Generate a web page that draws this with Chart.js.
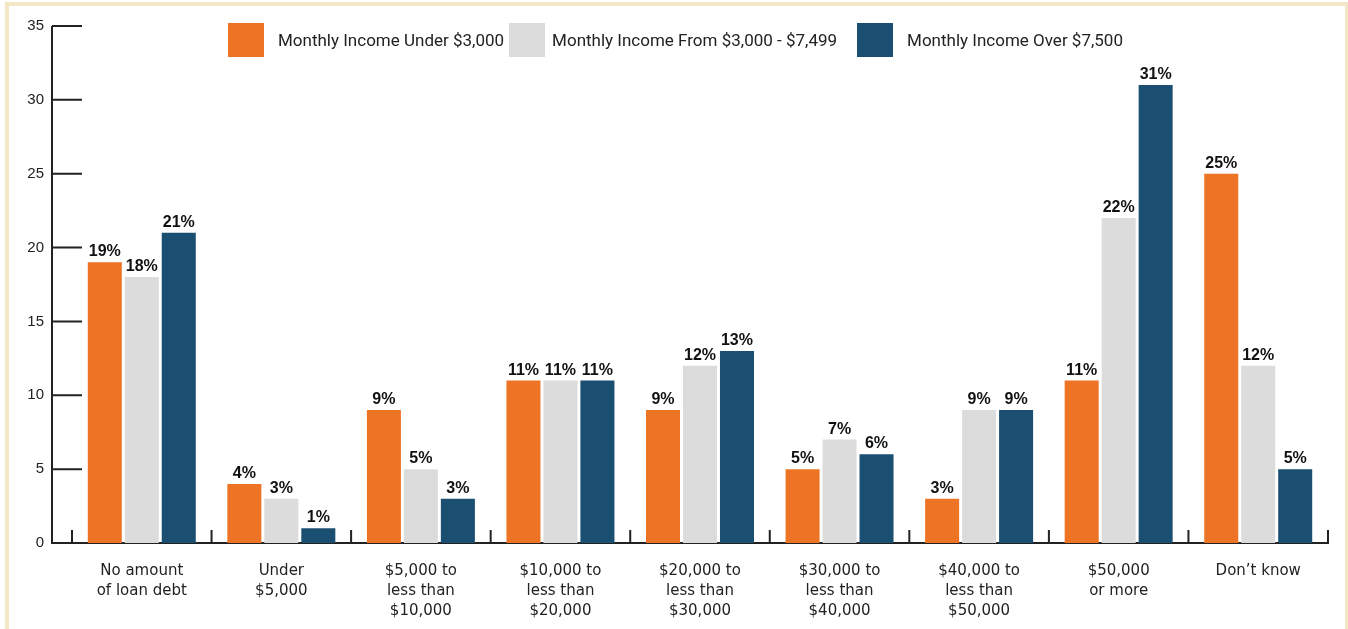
<!DOCTYPE html>
<html>
<head>
<meta charset="utf-8">
<script src="https://cdn.jsdelivr.net/npm/chart.js@4"></script>
<style>
  body { margin: 0; background: #fff; overflow: hidden; }
  #wrap { position: relative; width: 1348px; height: 629px; }
  #frame { position: absolute; left: 5px; top: 2px; width: 1336px; height: 700px;
           border: 4px solid #f3e8c6; border-bottom: none; pointer-events: none; }
  #legend { position: absolute; top: 23px; left: 228px; display: flex; align-items: center;
            font-family: Roboto, sans-serif; font-size: 17px; color: #222; }
  #legend .item { display: flex; align-items: center; }
  #legend .box { width: 36px; height: 34px; }
</style>
</head>
<body>
<div id="wrap">
  <canvas id="myChart" width="1348" height="629"></canvas>
  <div id="legend"></div>
  <div id="frame"></div>
</div>
<script>
const categories = [
  ['No amount', 'of loan debt'],
  ['Under', '$5,000'],
  ['$5,000 to', 'less than', '$10,000'],
  ['$10,000 to', 'less than', '$20,000'],
  ['$20,000 to', 'less than', '$30,000'],
  ['$30,000 to', 'less than', '$40,000'],
  ['$40,000 to', 'less than', '$50,000'],
  ['$50,000', 'or more'],
  ['Don\u2019t know']
];
const seriesNames = ['Monthly Income Under $3,000', 'Monthly Income From $3,000 - $7,499', 'Monthly Income Over $7,500'];
const under3000 = [19, 4, 9, 11, 9, 5, 3, 11, 25];
const from3000 = [18, 3, 5, 11, 12, 7, 9, 22, 12];
const over7500 = [21, 1, 3, 11, 13, 6, 9, 31, 5];
const yTicks = [0, 5, 10, 15, 20, 25, 30, 35];
const colors = ['#ee7425', '#dcdcdc', '#1b4f72'];

// axes drawn by hand: ticks point inward like the original
const axesPlugin = {
  id: 'axes',
  beforeDatasetsDraw(chart) {
    const ctx = chart.ctx;
    const x = chart.scales.x, y = chart.scales.y;
    const axisX = chart.chartArea.left - 20;
    const y0 = y.getPixelForValue(0);
    ctx.save();
    ctx.strokeStyle = '#222';
    ctx.lineWidth = 2;
    ctx.beginPath();
    ctx.moveTo(axisX, y.getPixelForValue(35));
    ctx.lineTo(axisX, y0);
    ctx.lineTo(chart.chartArea.right, y0);
    yTicks.forEach(v => {
      const py = y.getPixelForValue(v);
      ctx.moveTo(axisX, py);
      ctx.lineTo(axisX + 30, py);
    });
    const w = (x.right - x.left) / categories.length;
    for (let i = 0; i <= categories.length; i++) {
      const px = x.left + i * w;
      ctx.moveTo(px, y0 + 1);
      ctx.lineTo(px, y0 - 13);
    }
    ctx.stroke();
    ctx.restore();
  },
  afterDatasetsDraw(chart) {
    const ctx = chart.ctx;
    ctx.save();
    ctx.font = 'bold 16px "Liberation Sans"';
    ctx.fillStyle = '#111';
    ctx.textAlign = 'center';
    ctx.textBaseline = 'alphabetic';
    chart.data.datasets.forEach((ds, i) => {
      chart.getDatasetMeta(i).data.forEach((bar, j) => {
        ctx.fillText(ds.data[j] + '%', bar.x, bar.y - 6);
      });
    });
    ctx.restore();
  }
};

const legendEl = document.getElementById('legend');
const legendGaps = [0, 5, 20];
const textGaps = [14, 7, 14];
seriesNames.forEach((name, i) => {
  const item = document.createElement('div');
  item.className = 'item';
  item.style.marginLeft = legendGaps[i] + 'px';
  item.innerHTML = '<div class="box" style="background:' + colors[i] + ';margin-right:' + textGaps[i] + 'px"></div><span>' + name + '</span>';
  legendEl.appendChild(item);
});

const chart1 = document.getElementById('myChart').getContext('2d');

const myChart = new Chart(chart1, {
    type: 'bar',
    data: {
        labels: categories,
        datasets: [
          { label: seriesNames[0], data: under3000, backgroundColor: colors[0] },
          { label: seriesNames[1], data: from3000, backgroundColor: colors[1] },
          { label: seriesNames[2], data: over7500, backgroundColor: colors[2] }
        ]
    },
    plugins: [axesPlugin],
    options: {
      responsive: false,
      animation: false,
      layout: { padding: { top: 26, right: 20, left: 0, bottom: 0 } },
      datasets: { bar: { categoryPercentage: 0.795, barPercentage: 0.92 } },
      plugins: {
        legend: { display: false },
        tooltip: { enabled: false }
      },
      scales: {
        x: {
          grid: { display: false, drawTicks: false },
          border: { display: false },
          ticks: {
            color: '#222',
            padding: 18,
            maxRotation: 0,
            font: { family: '"DejaVu Sans"', size: 15, lineHeight: 1.333 }
          },
          afterFit(scale) { scale.height = 86; }
        },
        y: {
          min: 0,
          max: 35,
          grid: { display: false, drawTicks: false },
          border: { display: false },
          ticks: {
            stepSize: 5,
            color: '#222',
            padding: 28,
            font: { family: '"Liberation Sans"', size: 15 }
          },
          afterFit(scale) {
            scale.width = 72;
            scale.paddingTop = 0;
            scale.paddingBottom = 0;
          }
        }
      }
    }
});
</script>
</body>
</html>
